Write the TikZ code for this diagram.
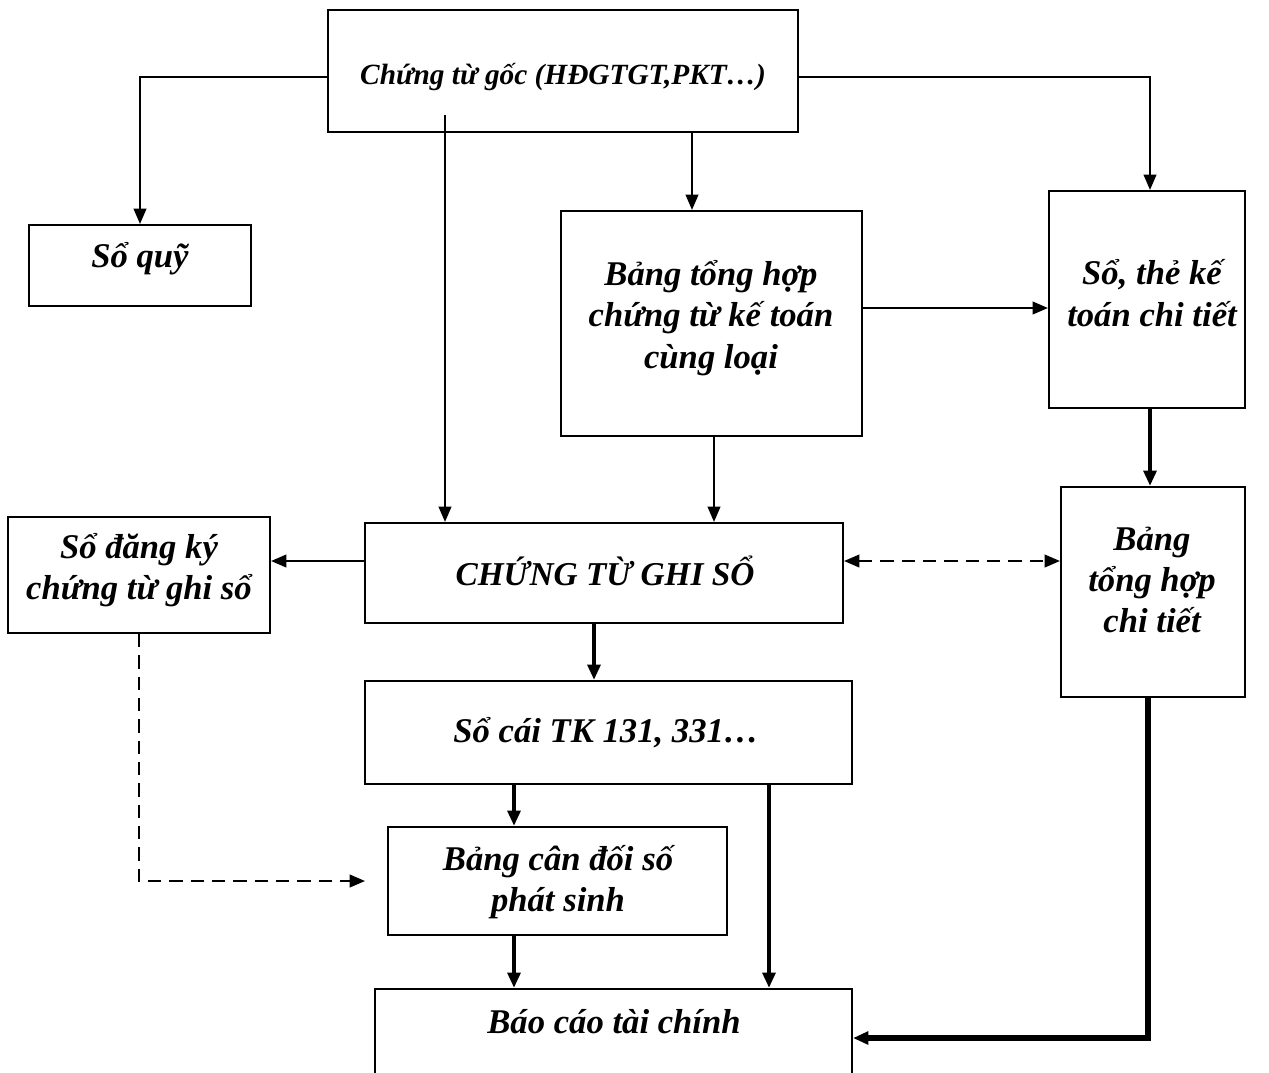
\documentclass[tikz,border=0pt]{standalone}
\usepackage{fontspec}
\setmainfont{Liberation Serif}
\usetikzlibrary{arrows.meta}

\tikzset{
  box/.style={draw, line width=1.6pt, inner sep=0pt},
  lbl/.style={font=\bfseries\itshape\fontsize{26pt}{31pt}\selectfont, align=center, inner sep=0pt},
  tip/.style={-{Triangle[length=11.5pt,width=9.5pt]}},
  conn/.style={line width=1.5pt, tip},
  heavy/.style={line width=3.2pt, tip},
  heavier/.style={line width=4pt, tip},
  dashconn/.style={line width=1.5pt, dash pattern=on 10pt off 6pt},
}

\begin{document}
\begin{tikzpicture}[x=0.75pt, y=-0.75pt]
\useasboundingbox (0,0) rectangle (1269,1072);
\clip (0,0) rectangle (1269,1072);

% boxes (centre, width, height in px)
\node[box, minimum width=470*0.75pt, minimum height=122*0.75pt] (goc)     at (563,71)    {};
\node[box, minimum width=222*0.75pt, minimum height=81*0.75pt]  (quy)     at (140,265.5) {};
\node[box, minimum width=301*0.75pt, minimum height=225*0.75pt] (tonghop) at (711.5,323.5) {};
\node[box, minimum width=196*0.75pt, minimum height=217*0.75pt] (sothe)   at (1147,299.5) {};
\node[box, minimum width=262*0.75pt, minimum height=116*0.75pt] (dangky)  at (139,575)   {};
\node[box, minimum width=478*0.75pt, minimum height=100*0.75pt] (ctgs)    at (604,573)   {};
\node[box, minimum width=184*0.75pt, minimum height=210*0.75pt] (thct)    at (1153,592)  {};
\node[box, minimum width=487*0.75pt, minimum height=103*0.75pt] (socai)   at (608.5,732.5) {};
\node[box, minimum width=339*0.75pt, minimum height=108*0.75pt] (cando)   at (557.5,881) {};
\node[box, minimum width=477*0.75pt, minimum height=120*0.75pt] (baocao)  at (613.5,1049) {};

% labels
\node[lbl, font=\bfseries\itshape\fontsize{22pt}{28pt}\selectfont] (goc-t) at (563,77) {Chứng từ gốc (HĐGTGT,PKT…)};
\node[lbl] (quy-t)     at (140,259)  {Sổ quỹ};
\node[lbl] (tonghop-t) at (711,318)  {Bảng tổng hợp\\chứng từ kế toán\\cùng loại};
\node[lbl] (sothe-t)   at (1152,293) {Sổ, thẻ kế\\toán chi tiết};
\node[lbl] (dangky-t)  at (139,570)  {Sổ đăng ký\\chứng từ ghi sổ};
\node[lbl, font=\bfseries\itshape\fontsize{25pt}{31pt}\selectfont] (ctgs-t) at (605,571) {CHỨNG TỪ GHI SỔ};
\node[lbl] (thct-t)    at (1152,580) {Bảng\\tổng hợp\\chi tiết};
\node[lbl] (socai-t)   at (606,733)  {Sổ cái TK 131, 331…};
\node[lbl] (cando-t)   at (558,882)  {Bảng cân đối số\\phát sinh};
\node[lbl] (baocao-t)  at (614,1022) {Báo cáo tài chính};

% guide coordinates for connector columns and rows
\coordinate (gsrc) at (445,115);
\coordinate (c692) at (692,0);
\coordinate (c714) at (714,0);
\coordinate (c1150) at (1150,0);
\coordinate (c594) at (594,0);
\coordinate (c514) at (514,0);
\coordinate (c769) at (769,0);
\coordinate (c1148) at (1148,0);
\coordinate (c139) at (139,0);
\coordinate (r308) at (0,308);
\coordinate (r561) at (0,561);
\coordinate (r1038) at (0,1038);
\coordinate (cdin) at (365,881);

% connectors
\draw[conn] ([yshift=-4.5pt]goc.west) -| (quy.north);
\draw[conn] ([yshift=-4.5pt]goc.east) -| (c1150 |- sothe.north);
\draw[conn] (gsrc) -- (gsrc |- ctgs.north);
\draw[conn] (c692 |- goc.south) -- (c692 |- tonghop.north);
\draw[conn] (r308 -| tonghop.east) -- (r308 -| sothe.west);
\draw[conn] (c714 |- tonghop.south) -- (c714 |- ctgs.north);
\draw[heavy] (c1150 |- sothe.south) -- (c1150 |- thct.north);
\draw[conn] (r561 -| ctgs.west) -- (r561 -| dangky.east);
\draw[dashconn, {Triangle[length=11.5pt,width=9.5pt]}-{Triangle[length=11.5pt,width=9.5pt]}] (r561 -| ctgs.east) -- (r561 -| thct.west);
\draw[heavy] (c594 |- ctgs.south) -- (c594 |- socai.north);
\draw[dashconn, tip] (c139 |- dangky.south) |- (cdin);
\draw[heavy] (c514 |- socai.south) -- (c514 |- cando.north);
\draw[heavy] (c769 |- socai.south) -- (c769 |- baocao.north);
\draw[heavy] (c514 |- cando.south) -- (c514 |- baocao.north);
\draw[heavier] (c1148 |- thct.south) |- (r1038 -| baocao.east);
\end{tikzpicture}
\end{document}
